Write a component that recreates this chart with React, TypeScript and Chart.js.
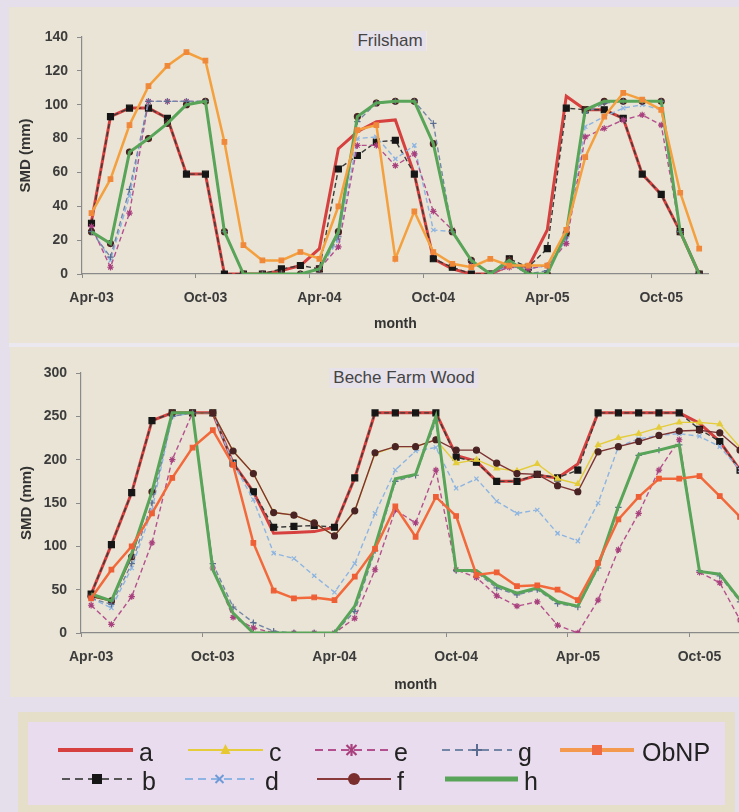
import React, { useEffect, useRef } from 'react';
import { Chart, registerables } from 'chart.js';

Chart.register(...registerables);

// ---- categories -------------------------------------------------------
const months = [
  'Apr-03', 'May-03', 'Jun-03', 'Jul-03', 'Aug-03', 'Sep-03', 'Oct-03', 'Nov-03', 'Dec-03',
  'Jan-04', 'Feb-04', 'Mar-04', 'Apr-04', 'May-04', 'Jun-04', 'Jul-04', 'Aug-04', 'Sep-04',
  'Oct-04', 'Nov-04', 'Dec-04', 'Jan-05', 'Feb-05', 'Mar-05', 'Apr-05', 'May-05', 'Jun-05',
  'Jul-05', 'Aug-05', 'Sep-05', 'Oct-05', 'Nov-05', 'Dec-05',
];

// ---- Frilsham SMD (mm) ------------------------------------------------
const frilshamA = [31, 93, 98, 98, 92, 59, 59, 0, 0, 0, 2, 5, 15, 74, 84, 90, 91, 59, 9, 3, 0, 0, 5, 4, 26, 105, 97, 97, 92, 59, 47, 25, 0];
const frilshamB = [30, 93, 98, 98, 92, 59, 59, 0, 0, 0, 3, 5, 3, 62, 70, 78, 79, 59, 9, 4, 0, 0, 9, 4, 15, 98, 97, 97, 92, 59, 47, 25, 0];
const frilshamC = [25, 18, 72, 80, 89, 100, 102, 25, 0, 0, 0, 0, 3, 25, 93, 101, 102, 102, 77, 25, 8, 0, 8, 0, 0, 24, 97, 102, 102, 102, 102, 25, 0];
const frilshamD = [27, 8, 46, 102, 102, 102, 102, 25, 0, 0, 0, 0, 3, 20, 80, 81, 68, 76, 26, 25, 8, 0, 5, 3, 5, 20, 87, 93, 98, 100, 97, 25, 0];
const frilshamE = [28, 4, 36, 102, 102, 102, 102, 25, 0, 0, 0, 0, 3, 16, 76, 76, 64, 71, 37, 26, 7, 0, 4, 3, 5, 18, 81, 86, 91, 94, 88, 25, 0];
const frilshamF = [25, 18, 72, 80, 89, 100, 102, 25, 0, 0, 0, 0, 3, 25, 93, 101, 102, 102, 77, 25, 8, 0, 8, 0, 0, 24, 97, 102, 102, 102, 102, 25, 0];
const frilshamG = [25, 10, 50, 102, 102, 102, 102, 25, 0, 0, 0, 0, 3, 22, 90, 101, 102, 102, 89, 25, 8, 0, 6, 0, 2, 22, 95, 101, 102, 102, 102, 25, 0];
const frilshamH = [25, 18, 72, 80, 89, 100, 102, 25, 0, 0, 0, 0, 3, 25, 93, 101, 102, 102, 77, 25, 8, 0, 8, 0, 0, 24, 97, 102, 102, 102, 102, 25, 0];
const frilshamObNP = [36, 56, 88, 111, 123, 131, 126, 78, 17, 8, 8, 13, 9, 40, 85, 88, 9, 37, 13, 6, 4, 9, 5, 5, 5, 26, 69, 93, 107, 103, 97, 48, 15];

// ---- Beche Farm Wood SMD (mm) -----------------------------------------
const becheA = [45, 102, 162, 245, 254, 254, 254, 196, 163, 115, 116, 117, 122, 179, 254, 254, 254, 254, 205, 198, 175, 175, 182, 179, 195, 254, 254, 254, 254, 254, 242, 221, 188];
const becheB = [45, 102, 162, 245, 254, 254, 254, 196, 163, 122, 123, 124, 122, 179, 254, 254, 254, 254, 203, 197, 175, 175, 183, 179, 188, 254, 254, 254, 254, 254, 235, 221, 188];
const becheC = [42, 37, 88, 163, 254, 254, 254, 210, 184, 139, 136, 127, 112, 141, 207, 215, 215, 223, 196, 200, 190, 187, 195, 178, 172, 217, 225, 230, 237, 243, 243, 241, 214];
const becheD = [40, 29, 75, 142, 250, 254, 254, 196, 154, 92, 86, 66, 47, 80, 138, 188, 210, 214, 167, 178, 152, 138, 142, 115, 106, 150, 215, 224, 228, 230, 227, 215, 188];
const becheE = [32, 10, 42, 104, 200, 254, 75, 18, 6, 0, 0, 0, 0, 17, 73, 142, 127, 188, 73, 64, 43, 31, 36, 9, 0, 38, 96, 138, 188, 223, 70, 58, 15];
const becheF = [42, 37, 88, 163, 254, 254, 254, 210, 184, 139, 136, 127, 112, 141, 208, 215, 215, 223, 211, 211, 196, 184, 183, 170, 163, 209, 215, 221, 228, 233, 234, 231, 211];
const becheG = [40, 33, 80, 150, 250, 254, 80, 30, 12, 2, 0, 0, 0, 25, 95, 175, 182, 245, 72, 70, 52, 44, 50, 34, 30, 75, 145, 205, 211, 217, 72, 66, 36];
const becheH = [45, 37, 92, 163, 254, 254, 73, 23, 0, 0, 0, 0, 0, 31, 100, 178, 183, 250, 72, 72, 55, 46, 52, 36, 31, 77, 146, 206, 211, 217, 71, 68, 38];
const becheObNP = [40, 73, 100, 138, 179, 214, 234, 194, 104, 49, 40, 41, 38, 65, 97, 146, 111, 157, 135, 67, 70, 54, 55, 50, 38, 81, 131, 157, 178, 178, 181, 158, 134];

// ---- styling ----------------------------------------------------------
const FAMILY = "'Liberation Sans', Arial, Helvetica, sans-serif";
const AXIS = '#8a8a8a';
const TEXT = '#3c3c3c';

type Look = {
  label: string;
  line: string;
  width: number;
  dash: number[];
  shape: any;
  fill: string;
  radius: number;
};

const looks: Look[] = [
  { label: 'a', line: '#d6403e', width: 3, dash: [], shape: 'circle', fill: '#d6403e', radius: 0 },
  { label: 'b', line: '#3a3a3a', width: 1.4, dash: [5, 3], shape: 'rect', fill: '#161616', radius: 4.2 },
  { label: 'c', line: '#e4cc3a', width: 1.4, dash: [], shape: 'triangle', fill: '#e4cc3a', radius: 3 },
  { label: 'd', line: '#8db4e2', width: 1.4, dash: [5, 3], shape: 'crossRot', fill: '#8db4e2', radius: 3 },
  { label: 'e', line: '#b4508e', width: 1.4, dash: [5, 3], shape: 'star', fill: '#a8407e', radius: 3.2 },
  { label: 'f', line: '#7e3434', width: 1.4, dash: [], shape: 'circle', fill: '#4a2424', radius: 3 },
  { label: 'g', line: '#7486a6', width: 1.4, dash: [5, 3], shape: 'cross', fill: '#5a6c90', radius: 3.2 },
  { label: 'h', line: '#58a458', width: 3, dash: [], shape: 'circle', fill: '#58a458', radius: 0 },
  { label: 'ObNP', line: '#f39a3e', width: 2.5, dash: [], shape: 'rect', fill: '#f08a3a', radius: 3.2 },
];

function buildDatasets(series: number[][], obnpLine: string, obnpFill: string) {
  return series.map((values, i) => {
    const lk = looks[i];
    const line = lk.label === 'ObNP' ? obnpLine : lk.line;
    const fill = lk.label === 'ObNP' ? obnpFill : lk.fill;
    return {
      label: lk.label,
      data: values,
      borderColor: line,
      backgroundColor: fill,
      borderWidth: lk.width,
      borderDash: lk.dash,
      pointStyle: lk.shape,
      pointRadius: lk.radius,
      pointBackgroundColor: fill,
      pointBorderColor: fill,
      pointBorderWidth: 1.2,
      tension: 0,
      fill: false,
      // first series underneath, ObNP on top
      order: looks.length - i,
    };
  });
}

type Frame = {
  yMax: number;
  yStep: number;
  yAxisWidth: number;
  xAxisHeight: number;
  padTop: number;
  padRight: number;
  xTickPad: number;
  yTickPad: number;
  yTitlePad: number;
  xTitlePad: number;
};

function buildConfig(datasets: any[], f: Frame): any {
  const tickFont = { family: FAMILY, size: 14, weight: 'bold' as const };
  return {
    type: 'line',
    data: { labels: months, datasets },
    options: {
      animation: false,
      responsive: false,
      maintainAspectRatio: false,
      events: [],
      layout: { padding: { left: 0, top: f.padTop, right: f.padRight, bottom: 0 } },
      plugins: {
        legend: { display: false },
        tooltip: { enabled: false },
        title: { display: false },
      },
      scales: {
        x: {
          type: 'category',
          offset: true,
          grid: {
            display: true,
            offset: true,
            drawOnChartArea: false,
            drawTicks: true,
            tickLength: 4,
            lineWidth: 1,
            color: (ctx: any) => (ctx.index % 6 === 0 ? AXIS : 'rgba(0,0,0,0)'),
          },
          border: { display: true, color: AXIS, width: 1.2 },
          ticks: {
            autoSkip: false,
            maxRotation: 0,
            minRotation: 0,
            padding: f.xTickPad,
            color: TEXT,
            font: tickFont,
            callback: (_v: any, i: number) => (i % 6 === 0 ? months[i] : ''),
          },
          title: {
            display: true,
            text: 'month',
            color: '#333',
            font: { family: FAMILY, size: 14, weight: 'bold' },
            padding: { top: 0, bottom: f.xTitlePad },
          },
          afterFit: (s: any) => {
            s.height = f.xAxisHeight;
          },
        },
        y: {
          min: 0,
          max: f.yMax,
          grid: {
            display: true,
            drawOnChartArea: false,
            drawTicks: true,
            tickLength: 5,
            color: AXIS,
          },
          border: { display: true, color: AXIS, width: 1.2 },
          ticks: {
            stepSize: f.yStep,
            padding: f.yTickPad,
            color: TEXT,
            font: tickFont,
          },
          title: {
            display: true,
            text: 'SMD (mm)',
            color: '#333',
            font: { family: FAMILY, size: 15, weight: 'bold' },
            padding: { top: f.yTitlePad, bottom: 0 },
          },
          afterFit: (s: any) => {
            s.width = f.yAxisWidth;
          },
        },
      },
    },
  };
}

function LineChart(props: { top: number; width: number; height: number; make: () => any }) {
  const ref = useRef<HTMLCanvasElement | null>(null);
  useEffect(() => {
    if (!ref.current) return;
    const chart = new Chart(ref.current, props.make());
    return () => chart.destroy();
  }, []);
  return (
    <canvas
      ref={ref}
      width={props.width}
      height={props.height}
      style={{ position: 'absolute', left: 0, top: props.top, width: props.width, height: props.height }}
    />
  );
}

function PanelTitle(props: { text: string; cx: number; cy: number }) {
  return (
    <div
      style={{
        position: 'absolute',
        left: props.cx,
        top: props.cy,
        transform: 'translate(-50%, -50%)',
        background: '#e7e1ea',
        padding: '1px 4px',
        font: `17px ${FAMILY}`,
        color: '#444',
        whiteSpace: 'nowrap',
        lineHeight: '18px',
      }}
    >
      {props.text}
    </div>
  );
}

// ---- legend -----------------------------------------------------------
function Marker(props: { kind: string; x: number; y: number; color: string }) {
  const { kind, x, y, color } = props;
  if (kind === 'triangle')
    return <polygon points={`${x},${y - 6} ${x - 5},${y + 4} ${x + 5},${y + 4}`} fill={color} />;
  if (kind === 'rect') return <rect x={x - 5} y={y - 5} width={10} height={10} fill={color} />;
  if (kind === 'circle') return <circle cx={x} cy={y} r={6} fill={color} />;
  if (kind === 'crossRot')
    return (
      <g stroke={color} strokeWidth={2}>
        <line x1={x - 4} y1={y - 4} x2={x + 4} y2={y + 4} />
        <line x1={x - 4} y1={y + 4} x2={x + 4} y2={y - 4} />
      </g>
    );
  if (kind === 'star')
    return (
      <g stroke={color} strokeWidth={2.2}>
        <line x1={x - 5} y1={y - 5} x2={x + 5} y2={y + 5} />
        <line x1={x - 5} y1={y + 5} x2={x + 5} y2={y - 5} />
        <line x1={x} y1={y - 6} x2={x} y2={y + 6} />
      </g>
    );
  if (kind === 'cross')
    return (
      <g stroke={color} strokeWidth={2}>
        <line x1={x - 5} y1={y} x2={x + 5} y2={y} />
        <line x1={x} y1={y - 6} x2={x} y2={y + 6} />
      </g>
    );
  return null;
}

const legendRows = [
  { label: 'a', x1: 58, x2: 133, y: 750, tx: 139, line: '#d6403e', w: 4, dash: '', mk: '', mc: '' },
  { label: 'c', x1: 188, x2: 263, y: 750, tx: 269, line: '#e4cc3a', w: 2, dash: '', mk: 'triangle', mc: '#e8c832' },
  { label: 'e', x1: 315, x2: 388, y: 750, tx: 394, line: '#b4508e', w: 2, dash: '8 5', mk: 'star', mc: '#a8407e' },
  { label: 'g', x1: 442, x2: 512, y: 750, tx: 518, line: '#7486a6', w: 2, dash: '8 5', mk: 'cross', mc: '#5a6c90' },
  { label: 'ObNP', x1: 560, x2: 634, y: 750, tx: 642, line: '#f39a4e', w: 4, dash: '', mk: 'rect', mc: '#ef6a42' },
  { label: 'b', x1: 62, x2: 132, y: 779, tx: 142, line: '#555555', w: 2, dash: '8 5', mk: 'rect', mc: '#161616' },
  { label: 'd', x1: 185, x2: 254, y: 779, tx: 265, line: '#8db4e2', w: 2, dash: '8 5', mk: 'crossRot', mc: '#6f9ad8' },
  { label: 'f', x1: 317, x2: 391, y: 779, tx: 397, line: '#8a3a3a', w: 2, dash: '', mk: 'circle', mc: '#7a2e2e' },
  { label: 'h', x1: 445, x2: 518, y: 779, tx: 524, line: '#58a458', w: 5, dash: '', mk: '', mc: '' },
];

function Legend() {
  return (
    <>
      <div
        style={{
          position: 'absolute',
          left: 18,
          top: 712,
          width: 717,
          height: 103,
          boxSizing: 'border-box',
          border: '10px solid #e5dfca',
          background: '#eadcef',
        }}
      />
      <svg width={739} height={812} style={{ position: 'absolute', left: 0, top: 0 }}>
        {legendRows.map((r) => (
          <g key={r.label}>
            <line
              x1={r.x1}
              y1={r.y}
              x2={r.x2}
              y2={r.y}
              stroke={r.line}
              strokeWidth={r.w}
              strokeDasharray={r.dash || undefined}
            />
            {r.mk ? <Marker kind={r.mk} x={(r.x1 + r.x2) / 2} y={r.y} color={r.mc} /> : null}
          </g>
        ))}
      </svg>
      {legendRows.map((r) => (
        <div
          key={'t' + r.label}
          style={{
            position: 'absolute',
            left: r.tx,
            top: r.y - 10,
            font: `25px ${FAMILY}`,
            lineHeight: '25px',
            color: '#222',
            whiteSpace: 'nowrap',
          }}
        >
          {r.label}
        </div>
      ))}
    </>
  );
}

export default function App() {
  const makeTop = () =>
    buildConfig(
      buildDatasets(
        [frilshamA, frilshamB, frilshamC, frilshamD, frilshamE, frilshamF, frilshamG, frilshamH, frilshamObNP],
        '#f4a03e',
        '#f0883a'
      ),
      {
        yMax: 140,
        yStep: 20,
        yAxisWidth: 82,
        xAxisHeight: 69,
        padTop: 37,
        padRight: 30.3,
        xTickPad: 12,
        yTickPad: 9,
        yTitlePad: 17,
        xTitlePad: 10.6,
      }
    );
  const makeBottom = () =>
    buildConfig(
      buildDatasets(
        [becheA, becheB, becheC, becheD, becheE, becheF, becheG, becheH, becheObNP],
        '#f26a3c',
        '#ee5f36'
      ),
      {
        yMax: 300,
        yStep: 50,
        yAxisWidth: 81,
        xAxisHeight: 64,
        padTop: 26,
        padRight: 19.8,
        xTickPad: 12,
        yTickPad: 9,
        yTitlePad: 18,
        xTitlePad: 3.6,
      }
    );

  return (
    <div
      style={{
        position: 'fixed',
        left: 0,
        top: 0,
        width: 739,
        height: 812,
        overflow: 'hidden',
        background: '#e5deeb',
      }}
    >
      <div style={{ position: 'absolute', left: 9, top: 7, width: 730, height: 336, background: '#e9e4d5' }} />
      <div style={{ position: 'absolute', left: 9, top: 343, width: 730, height: 4, background: '#ece8f0' }} />
      <div style={{ position: 'absolute', left: 10, top: 347, width: 729, height: 350, background: '#e9e4d5' }} />
      <LineChart top={0} width={739} height={343} make={makeTop} />
      <LineChart top={347} width={770} height={350} make={makeBottom} />
      <PanelTitle text="Frilsham" cx={390} cy={41} />
      <PanelTitle text="Beche Farm Wood" cx={404} cy={378} />
      <Legend />
    </div>
  );
}
